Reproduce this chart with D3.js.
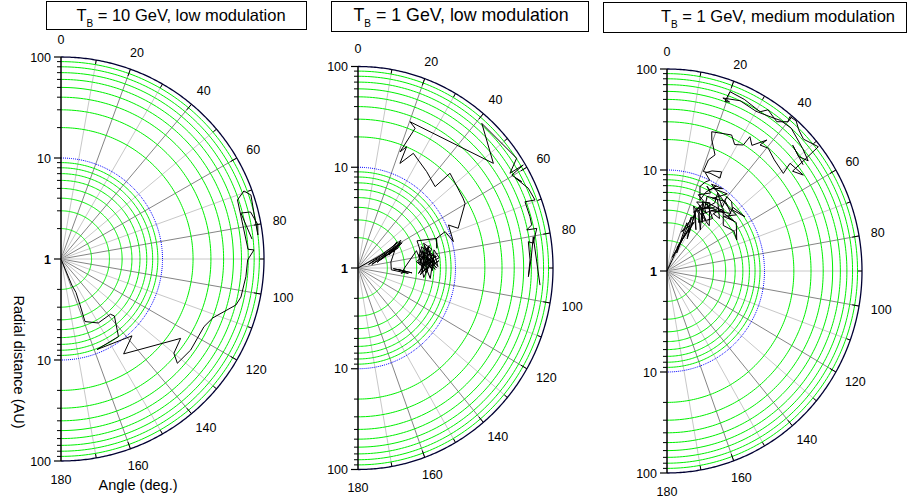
<!DOCTYPE html>
<html>
<head>
<meta charset="utf-8">
<script src="https://cdn.jsdelivr.net/npm/d3@7"></script>
<style>
  body { margin: 0; background: #fff; }
  text { font-family: Arial, "Liberation Sans", sans-serif; fill: #000; }
</style>
</head>
<body>
<svg id="chart" width="909" height="498"></svg>
<script>
// ---- data ----
var angleTicks = [0, 20, 40, 60, 80, 100, 120, 140, 160, 180];
var spokeAngles = d3.range(10, 180, 10);
var ringValues = [2, 3, 4, 5, 6, 7, 8, 9, 20, 30, 40, 50, 60, 70, 80, 90];
var radialLabels = [100, 10, 1, 10, 100];

var titleMain = ["T", "T", "T"];
var titleSub = ["B", "B", "B"];
var titleRest = [" = 10 GeV, low modulation", " = 1 GeV, low modulation", " = 1 GeV, medium modulation"];

// trajectories: [angle (deg), radial distance (AU)]
var track1 = [
  [160, 1.02], [157.6, 1.9], [156, 2.3], [157.6, 3.1], [159.1, 4.6], [149.9, 5.4], [138.3, 5.4], [137, 5.9],
  [143.6, 9.0], [158.4, 9.2], [137.4, 10.8], [146.7, 13.3], [123.7, 26.1], [130, 28.3], [132, 34.9],
  [125.2, 36.6], [115.4, 36.3], [111.3, 40.3], [104.8, 60.6], [102, 64.9], [95.5, 67.6], [90.3, 69],
  [87.3, 80], [87, 70], [71.4, 68.3], [69.5, 83.9], [71.3, 94.5], [76.5, 90.1], [83, 90], [80, 93],
  [76, 84], [75.6, 67.6], [84, 78]
];

var track2 = [
  [90, 1.0], [62, 3.1], [72, 1.3], [58, 3.3], [66, 2.5], [60, 3.2], [76, 1.4], [64, 2.9], [70, 1.8],
  [57, 3.0], [68, 2.2], [61, 3.3], [74, 1.6], [63, 2.7], [80, 2.2], [93, 2.2], [96, 3.3], [92, 2.6],
  [95, 3.6], [91, 2.3], [94, 3.1], [97, 2.8], [90, 3.0], [74, 4.2], [82, 4.4], [98, 4.8], [86, 5.6],
  [81, 6.3], [89, 6.6], [78, 5.3], [84, 4.0], [92, 5.2], [72, 4.8], [80, 6.0], [95, 4.2], [86, 4.8],
  [76, 6.0], [70, 5.2], [83, 5.4], [88, 6.0], [74, 5.6], [79, 4.4], [90, 5.6], [85, 6.8], [93, 4.6],
  [77, 5.0], [87, 4.3], [82, 6.5], [76, 4.6], [91, 6.2], [84, 5.0], [73, 5.8], [80, 4.8], [88, 5.2],
  [75, 5.4], [86, 6.2], [78, 4.3], [94, 5.0], [81, 5.8], [72, 5.2], [89, 4.6], [83, 6.9], [77, 6.3],
  [92, 5.8], [79, 5.0], [86, 4.2], [74, 4.6], [90, 6.4], [82, 5.2], [96, 4.4], [85, 5.9], [98, 5.6],
  [88, 4.9], [66, 4.6], [70, 7.2], [76.4, 6.8],
  [69.9, 7.2], [68, 9.2], [75, 10.3], [65.3, 10.5], [69, 12.6], [59.7, 18.7], [57.2, 19.1],
  [45.1, 21.5], [44.4, 13.5], [36.4, 15.4], [26.5, 18.7], [22.5, 13.3], [22.5, 20.1], [20.5, 17],
  [22.9, 32], [20.2, 35.2], [53.2, 54.2], [41.5, 82.5], [56.2, 90.8], [58.9, 66.1], [58.9, 95.4],
  [59.7, 67.1], [63, 76.7], [61, 70], [65.6, 82.7], [69.6, 86.5], [69, 68.3], [73.9, 68.5], [76.5, 67.9],
  [77.7, 59], [77.9, 75], [82.2, 65.2], [81.5, 58.4], [87.4, 58.4], [92.8, 56.2], [87, 60],
  [80.2, 66.7], [95.2, 74.9]
];

var track3 = [
  [30, 1.0], [26, 2.3], [22, 1.4], [28, 3.0], [24, 1.8], [30, 3.6], [21, 2.6], [27, 4.2], [33, 2.4],
  [25, 3.9], [29, 1.6], [23, 3.3], [31, 2.8], [26, 4.6], [36, 3.2], [23, 5.0], [30, 4.5], [40, 3.4],
  [28, 6.0], [35, 5.0], [24, 5.6], [33, 6.4], [44, 4.2], [26, 4.9], [38, 6.2], [32, 5.4], [29, 7.0],
  [36, 7.6], [46, 5.6], [40, 5.5], [43, 7.0], [52, 5.4], [60, 6.2], [66.8, 6.0], [56, 7.2], [50, 6.6],
  [47, 8.4], [56.1, 9.2], [48, 8.0], [44, 9.0], [39.8, 9.1], [42, 7.0], [34, 8.5], [36, 6.8],
  [30, 5.0], [38, 4.4], [27, 5.4], [34, 3.8], [42, 5.0], [31, 6.2], [45, 6.8], [37, 5.6], [49, 7.4],
  [41, 8.2], [33, 7.2], [39, 9.6], [30, 8.8], [35, 9.9], [28, 9.4], [44, 7.8], [52, 8.0], [47, 6.2],
  [54, 7.0], [40, 6.4], [32, 4.6], [37, 4.0], [29, 5.8], [25, 4.4], [34, 5.8], [23, 6.6], [30, 7.8],
  [26, 8.6], [28.8, 8.2], [31, 9.6], [27, 7.5], [25.7, 6.0], [22, 8.0], [24, 9.2], [26, 10.0], [22, 11.2],
  [25, 12.4], [29.7, 13.5], [30.6, 11.7], [24.5, 11.6], [20.7, 11.3], [21.1, 15.1], [23.2, 17.8],
  [19.5, 23.8], [18.4, 28.4], [26.2, 31.7], [29, 27], [32.1, 29.7], [32.6, 37.9], [35, 33],
  [38.3, 44.9], [37.4, 37.2], [40.5, 39.7], [45, 36], [51, 34.3], [49.8, 44.9], [55.8, 49], [52.5, 42],
  [51.6, 95.6], [47, 82], [44, 88], [41.7, 98], [39.5, 95.8], [40, 85], [37.3, 72.1], [33, 80],
  [31.2, 69.7], [25, 75], [20, 77.5], [19.5, 60.1], [21, 62], [18.5, 64], [24, 70], [30, 67],
  [36, 74], [38, 78], [42, 80], [45, 75], [49, 70], [53, 65], [50, 58], [46, 62], [53, 56]
];

var tracks = [track1, track2, track3];

// ---- layout ----
var panels = [
  {cx: 61, cy: 259, rx: 203, ry: 202, box: [46, 1, 260, 28], textX: 181, fs: 16.5, axisTitles: true},
  {cx: 358, cy: 268, rx: 195, ry: 201.5, box: [331, 1, 257, 30], textX: 461, fs: 17.8, axisTitles: false},
  {cx: 667, cy: 271, rx: 195, ry: 202, box: [603, 2, 303, 30], textX: 778, fs: 16.5, axisTitles: false}
];

var svg = d3.select("#chart");
var rScale = d3.scaleLog().domain([1, 100]).range([0, 1]);

function pt(p, deg, r) {
  var a = deg * Math.PI / 180, f = rScale(r);
  return [p.cx + p.rx * f * Math.sin(a), p.cy - p.ry * f * Math.cos(a)];
}

var arcLine = d3.line();

panels.forEach(function(p, i) {
  var g = svg.append("g");

  // spokes
  g.selectAll(".spoke").data(spokeAngles).enter().append("line")
    .attr("x1", p.cx).attr("y1", p.cy)
    .attr("x2", d => pt(p, d, 100)[0]).attr("y2", d => pt(p, d, 100)[1])
    .attr("stroke", d => d % 20 === 0 ? "#858585" : "#c8c8c8")
    .attr("stroke-width", 1);

  // green rings
  g.selectAll(".ring").data(ringValues).enter().append("path")
    .attr("d", v => arcLine(d3.range(0, 180.5, 1).map(a => pt(p, a, v))))
    .attr("fill", "none").attr("stroke", "#00f000").attr("stroke-width", 1);

  // blue dotted ring at 10 AU
  g.append("path")
    .attr("d", arcLine(d3.range(0, 180.5, 1).map(a => pt(p, a, 10))))
    .attr("fill", "none").attr("stroke", "#0000ff").attr("stroke-width", 1)
    .attr("stroke-dasharray", "1,1");

  // outer ring
  g.append("path")
    .attr("d", arcLine(d3.range(0, 180.5, 0.5).map(a => pt(p, a, 100))))
    .attr("fill", "none").attr("stroke", "#000033").attr("stroke-width", 1.3);

  // ticks on outer ring
  g.selectAll(".otick").data(d3.range(10, 180, 10)).enter().append("line")
    .attr("x1", d => pt(p, d, 100)[0]).attr("y1", d => pt(p, d, 100)[1])
    .attr("x2", d => pt(p, d, d % 20 === 0 ? 85 : 91)[0])
    .attr("y2", d => pt(p, d, d % 20 === 0 ? 85 : 91)[1])
    .attr("stroke", "#000").attr("stroke-width", 1);

  // trajectory
  g.append("path")
    .attr("d", d3.line().x(d => pt(p, d[0], d[1])[0]).y(d => pt(p, d[0], d[1])[1])(tracks[i]))
    .attr("fill", "none").attr("stroke", "#000").attr("stroke-width", 1)
    .attr("stroke-linejoin", "miter");

  // vertical axis
  g.append("line")
    .attr("x1", p.cx).attr("x2", p.cx)
    .attr("y1", p.cy - p.ry).attr("y2", p.cy + p.ry)
    .attr("stroke", "#000").attr("stroke-width", 1.5);

  var minorY = [];
  ringValues.forEach(v => {
    minorY.push(p.cy - p.ry * rScale(v));
    minorY.push(p.cy + p.ry * rScale(v));
  });
  g.selectAll(".minor").data(minorY).enter().append("line")
    .attr("x1", p.cx - 4).attr("x2", p.cx).attr("y1", d => d).attr("y2", d => d)
    .attr("stroke", "#000").attr("stroke-width", 1);

  var majorY = radialLabels.map((v, k) => p.cy + (k < 2 ? -1 : 1) * p.ry * rScale(v));
  g.selectAll(".major").data(majorY).enter().append("line")
    .attr("x1", p.cx - 7).attr("x2", p.cx).attr("y1", d => d).attr("y2", d => d)
    .attr("stroke", "#000").attr("stroke-width", 1.2);

  g.selectAll(".rlab").data(radialLabels).enter().append("text")
    .attr("x", p.cx - 10)
    .attr("y", (d, k) => majorY[k] + 4.5)
    .attr("text-anchor", "end")
    .attr("font-size", 12.5)
    .attr("font-weight", d => d === 1 ? "bold" : "normal")
    .text(d => d);

  // angle labels
  g.selectAll(".alab").data(angleTicks).enter().append("text")
    .attr("x", d => {
      var s = Math.sin(d * Math.PI / 180), w = String(d).length * 7;
      return p.cx + (p.rx + 12) * s + s * w / 2;
    })
    .attr("y", d => {
      var c = Math.cos(d * Math.PI / 180);
      return p.cy - (p.ry + 12) * c - c * 6 + 4.5;
    })
    .attr("text-anchor", "middle")
    .attr("font-size", 12.5)
    .text(d => d);

  // title box
  g.append("rect")
    .attr("x", p.box[0] + 0.5).attr("y", p.box[1] + 0.5)
    .attr("width", p.box[2]).attr("height", p.box[3])
    .attr("fill", "#fff").attr("stroke", "#000").attr("stroke-width", 1);

  var t = g.append("text")
    .attr("x", p.textX).attr("y", p.box[1] + 20)
    .attr("text-anchor", "middle")
    .attr("font-size", p.fs);
  t.append("tspan").text(titleMain[i]);
  t.append("tspan").attr("font-size", 10).attr("dy", 6).text(titleSub[i]);
  t.append("tspan").attr("dy", -6).text(titleRest[i]);

  if (p.axisTitles) {
    svg.append("text")
      .attr("transform", "translate(14," + 362 + ") rotate(90)")
      .attr("text-anchor", "middle")
      .attr("font-size", 14.5)
      .text("Radial distance (AU)");
    svg.append("text")
      .attr("x", 138).attr("y", 490)
      .attr("text-anchor", "middle")
      .attr("font-size", 14.5)
      .text("Angle (deg.)");
  }
});
</script>
</body>
</html>
